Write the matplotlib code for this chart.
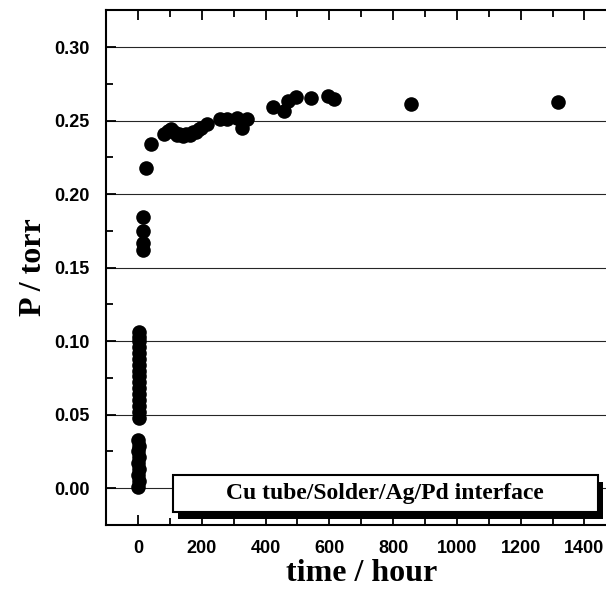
import matplotlib
matplotlib.use("Agg")
import matplotlib.pyplot as plt
from matplotlib.patches import Rectangle
from matplotlib.ticker import MultipleLocator, FormatStrFormatter

# data (time in hours, pressure in torr)
t_early = [3, 2, 3, 2, 3, 2, 3, 2, 3, 2, 3, 2, 3, 2, 3, 3,
           1, 2, 1, 2, 1, 2, 1, 2, 1]
p_early = [0.048, 0.052, 0.056, 0.060, 0.064, 0.068, 0.072, 0.076, 0.080,
           0.084, 0.088, 0.092, 0.096, 0.100, 0.103, 0.106,
           0.001, 0.005, 0.009, 0.013, 0.017, 0.021, 0.025, 0.029, 0.033]

t_late = [16, 16, 16, 16, 26, 41, 83, 95, 105, 112, 121, 130, 140, 150,
          162, 172, 181, 190, 197, 216, 257, 279, 311, 327, 343,
          425, 457, 470, 495, 543, 597, 616, 857, 1318]
p_late = [0.1845, 0.175, 0.167, 0.162, 0.218, 0.234, 0.241, 0.243, 0.244,
          0.242, 0.240, 0.241, 0.2395, 0.241, 0.240, 0.242, 0.242, 0.244,
          0.245, 0.2476, 0.251, 0.251, 0.252, 0.245, 0.251,
          0.259, 0.2565, 0.263, 0.266, 0.265, 0.267, 0.2646, 0.261, 0.2625]

label_text = "Cu tube/Solder/Ag/Pd interface"

fig = plt.figure(figsize=(6.06, 5.93), dpi=100)
ax = fig.add_axes([0.175, 0.1147, 0.842, 0.868])

ax.plot(t_early + t_late, p_early + p_late, "o", color="black",
        markersize=10.5, markeredgewidth=0, zorder=3)

ax.set_xlim(-100, 1500)
ax.set_ylim(-0.025, 0.325)

ax.xaxis.set_major_locator(MultipleLocator(200))
ax.xaxis.set_minor_locator(MultipleLocator(100))
ax.yaxis.set_major_locator(MultipleLocator(0.05))
ax.yaxis.set_minor_locator(MultipleLocator(0.025))
ax.yaxis.set_major_formatter(FormatStrFormatter("%.2f"))

# horizontal grid lines
ax.grid(axis="y", which="major", color="black", linewidth=0.8, alpha=0.85)

ax.tick_params(which="both", direction="in", top=True, right=True,
               width=1.3, colors="black")
ax.tick_params(which="major", length=7)
ax.tick_params(which="minor", length=5)
ax.tick_params(axis="y", pad=12)
ax.tick_params(axis="x", pad=11)

for lab in ax.get_xticklabels() + ax.get_yticklabels():
    lab.set_fontfamily("Liberation Sans")
    lab.set_fontweight("bold")
    lab.set_fontsize(13)

for sp in ax.spines.values():
    sp.set_linewidth(1.5)

ax.set_xlabel("time / hour", family="Liberation Serif", fontweight="bold",
              fontsize=23, labelpad=1)
ax.set_ylabel("P / torr", family="Liberation Serif", fontweight="bold",
              fontsize=23, labelpad=4)

# boxed label with drop shadow
ax.add_patch(Rectangle((0.141, 0.012), 0.833, 0.072, transform=ax.transAxes,
                       facecolor="black", edgecolor="none", zorder=4))
ax.add_patch(Rectangle((0.131, 0.025), 0.833, 0.072, transform=ax.transAxes,
                       facecolor="white", edgecolor="black", linewidth=1.5,
                       zorder=5))
ax.text(0.547, 0.061, label_text, transform=ax.transAxes, ha="center",
        va="center", family="Liberation Serif", fontweight="bold",
        fontsize=17, zorder=6)

plt.savefig("out.png", dpi=100)
